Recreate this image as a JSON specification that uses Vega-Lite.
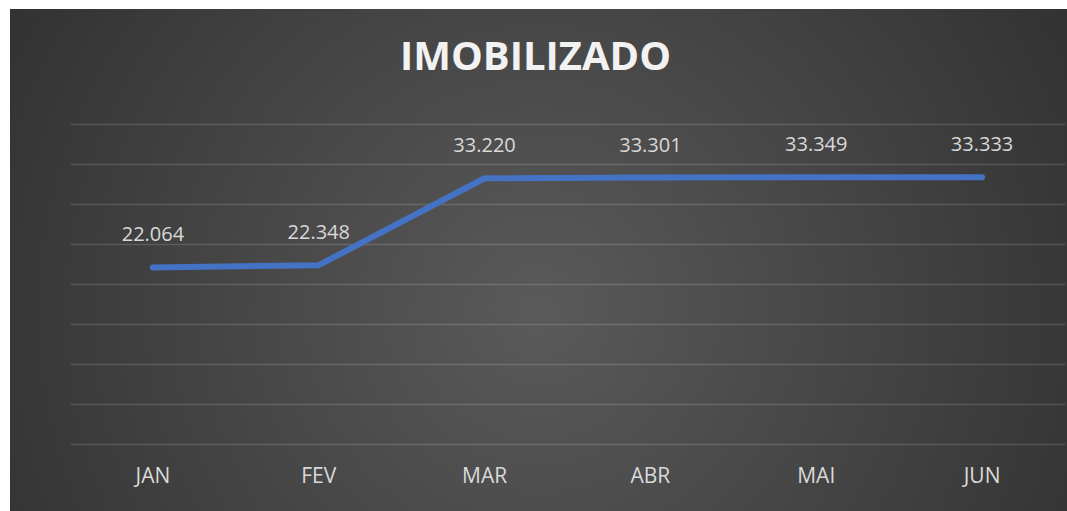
{
  "$schema": "https://vega.github.io/schema/vega-lite/v6.json",
  "width": 1067,
  "height": 511,
  "autosize": {"type": "fit", "contains": "padding"},
  "padding": {"left": 10, "top": 9, "right": 0, "bottom": 0},
  "background": "#ffffff",
  "config": {
    "locale": {"number": {"decimal": ",", "thousands": ".", "grouping": [3], "currency": ["R$", ""]}},
    "view": {
      "stroke": null,
      "fill": {
        "gradient": "radial",
        "x1": 0.5, "y1": 0.55, "r1": 0,
        "x2": 0.5, "y2": 0.55, "r2": 0.75,
        "stops": [
          {"offset": 0, "color": "#5a5a5a"},
          {"offset": 1, "color": "#262626"}
        ]
      }
    }
  },
  "layer": [
    {
      "data": {
        "values": [
          {"mes": "JAN", "valor": 22064},
          {"mes": "FEV", "valor": 22348},
          {"mes": "MAR", "valor": 33220},
          {"mes": "ABR", "valor": 33301},
          {"mes": "MAI", "valor": 33349},
          {"mes": "JUN", "valor": 33333}
        ]
      },
      "encoding": {
        "x": {
          "field": "mes",
          "type": "ordinal",
          "sort": null,
          "scale": {"type": "band", "range": [60, 1055], "paddingInner": 0, "paddingOuter": 0},
          "axis": {
            "title": null,
            "orient": "bottom",
            "domain": false,
            "ticks": false,
            "tickSize": 0,
            "grid": false,
            "labelPadding": 0,
            "offset": -29,
            "labelBaseline": "alphabetic",
            "labelAngle": 0,
            "labelFont": "Open Sans",
            "labelFontSize": 21,
            "labelColor": "#D9D9D9"
          }
        },
        "y": {
          "field": "valor",
          "type": "quantitative",
          "scale": {"domain": [-8375, 54375], "nice": false, "zero": false},
          "axis": {
            "title": null,
            "labels": false,
            "ticks": false,
            "domain": false,
            "grid": true,
            "values": [0, 5000, 10000, 15000, 20000, 25000, 30000, 35000, 40000],
            "gridColor": "#ffffff",
            "gridOpacity": 0.15,
            "gridWidth": 1.5
          }
        }
      },
      "layer": [
        {
          "mark": {"type": "line", "color": "#4472C4", "strokeWidth": 6, "strokeCap": "round", "strokeJoin": "round"}
        },
        {
          "mark": {"type": "text", "dy": -26, "baseline": "alphabetic", "align": "center", "font": "Open Sans", "fontSize": 20, "color": "#D9D9D9"},
          "encoding": {
            "text": {"field": "valor", "type": "quantitative", "format": ",d"}
          }
        }
      ]
    },
    {
      "data": {"values": [{"titulo": "IMOBILIZADO"}]},
      "mark": {"type": "text", "baseline": "alphabetic", "align": "center", "font": "Open Sans", "fontSize": 40, "fontWeight": "bold", "color": "#F2F2F2"},
      "encoding": {
        "text": {"field": "titulo", "type": "nominal"},
        "x": {"value": {"expr": "width / 2 - 3"}},
        "y": {"datum": 46750, "type": "quantitative"}
      }
    }
  ]
}
